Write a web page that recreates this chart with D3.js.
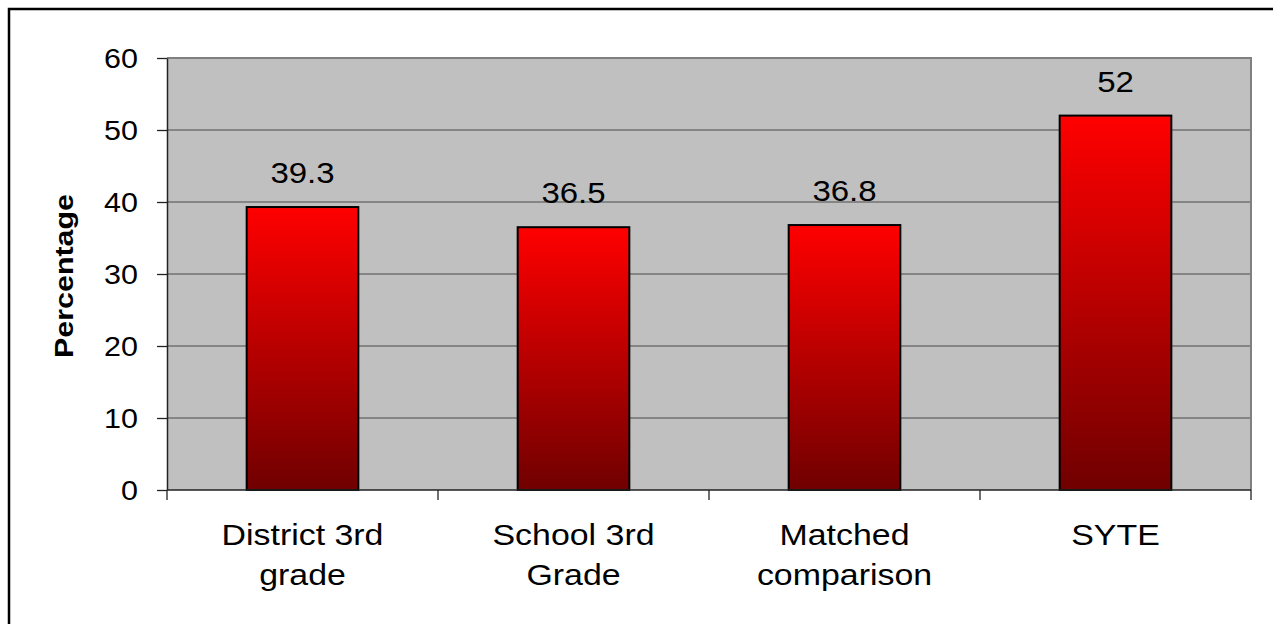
<!DOCTYPE html>
<html>
<head>
<meta charset="utf-8">
<script src="https://cdn.jsdelivr.net/npm/d3@7"></script>
<style>
html,body{margin:0;padding:0;background:#fff;}
svg{display:block;font-family:"Liberation Sans",Arial,sans-serif;}
</style>
</head>
<body>
<svg id="chart" width="1273" height="624"></svg>
<script>
const categories = ["District 3rd grade", "School 3rd Grade", "Matched comparison", "SYTE"];
const categoryLines = [["District 3rd", "grade"], ["School 3rd", "Grade"], ["Matched", "comparison"], ["SYTE"]];
const values = [39.3, 36.5, 36.8, 52];
const valueLabels = ["39.3", "36.5", "36.8", "52"];
const yTicks = [0, 10, 20, 30, 40, 50, 60];
const yTitle = "Percentage";

const svg = d3.select("#chart");
const L = 167, R = 1251, T = 58, B = 490;
const SX = 1.13;

// outer frame (cropped at right/bottom)
svg.append("rect").attr("x", 9).attr("y", 9).attr("width", 1400).attr("height", 800)
  .attr("fill", "none").attr("stroke", "#000").attr("stroke-width", 2.5);

const defs = svg.append("defs");
const grad = defs.append("linearGradient").attr("id", "barGrad")
  .attr("x1", 0).attr("y1", 0).attr("x2", 0).attr("y2", 1);
grad.append("stop").attr("offset", "0%").attr("stop-color", "#ff0000");
grad.append("stop").attr("offset", "100%").attr("stop-color", "#700000");

const x = d3.scaleBand().domain(categories).range([L, R]).padding(0);
const y = d3.scaleLinear().domain([0, 60]).range([B, T]);
const barW = x.bandwidth() * 0.412;

// plot background
svg.append("rect").attr("x", L).attr("y", T).attr("width", R - L).attr("height", B - T)
  .attr("fill", "#c0c0c0");

// gridlines
svg.append("g").selectAll("line").data(yTicks.filter(d => d > 0 && d < 60)).join("line")
  .attr("x1", L).attr("x2", R).attr("y1", d => y(d)).attr("y2", d => y(d))
  .attr("stroke", "#4a4a4a").attr("stroke-width", 1.2);

// plot border top/right
svg.append("path").attr("d", `M${L},${T}H${R}V${B}`).attr("fill", "none")
  .attr("stroke", "#808080").attr("stroke-width", 2);

// bars
svg.append("g").selectAll("rect").data(values).join("rect")
  .attr("x", (d, i) => x(categories[i]) + (x.bandwidth() - barW) / 2)
  .attr("y", d => y(d))
  .attr("width", barW)
  .attr("height", d => y(0) - y(d))
  .attr("fill", "url(#barGrad)")
  .attr("stroke", "#000").attr("stroke-width", 2);

// value labels
svg.append("g").selectAll("text").data(values).join("text")
  .attr("transform", (d, i) => `translate(${x(categories[i]) + x.bandwidth() / 2},${y(d) - 24}) scale(1.1,1)`)
  .attr("text-anchor", "middle").attr("font-size", 30).attr("fill", "#000")
  .text((d, i) => valueLabels[i]);

// y axis
const yAxis = svg.append("g").attr("transform", `translate(${L},0)`)
  .call(d3.axisLeft(y).tickValues(yTicks).tickSizeInner(10).tickSizeOuter(0).tickPadding(0));
yAxis.select(".domain").attr("stroke", "#222").attr("stroke-width", 1.5);
yAxis.selectAll(".tick line").attr("stroke", "#222").attr("stroke-width", 1.3);
yAxis.selectAll(".tick text")
  .attr("x", -29 / SX).attr("dy", "0.35em")
  .attr("transform", `scale(${SX},1)`)
  .attr("font-size", 27).attr("font-family", '"Liberation Sans",Arial,sans-serif').attr("fill", "#000");

// x axis
const xAxisG = svg.append("g");
xAxisG.append("line").attr("x1", L).attr("x2", R).attr("y1", B).attr("y2", B)
  .attr("stroke", "#222").attr("stroke-width", 1.5);
const boundaries = categories.map(c => x(c)).concat([x(categories[categories.length - 1]) + x.bandwidth()]);
xAxisG.selectAll("line.tk").data(boundaries).join("line").attr("class", "tk")
  .attr("x1", d => d).attr("x2", d => d).attr("y1", B).attr("y2", B + 10)
  .attr("stroke", "#222").attr("stroke-width", 1.3);

// category labels
const catG = svg.append("g").selectAll("g").data(categories).join("g")
  .attr("transform", d => `translate(${x(d) + x.bandwidth() / 2},0)`);
catG.each(function(d, i) {
  d3.select(this).selectAll("text").data(categoryLines[i]).join("text")
    .attr("transform", (t, j) => `translate(0,${545 + j * 40}) scale(${SX},1)`)
    .attr("text-anchor", "middle").attr("font-size", 30).attr("fill", "#000")
    .text(t => t);
});

// y title
svg.append("text")
  .attr("transform", `translate(73,${(T + B) / 2 + 2}) rotate(-90) scale(1.17,1)`)
  .attr("text-anchor", "middle").attr("font-size", 26).attr("font-weight", "bold").attr("fill", "#000")
  .text(yTitle);
</script>
</body>
</html>
